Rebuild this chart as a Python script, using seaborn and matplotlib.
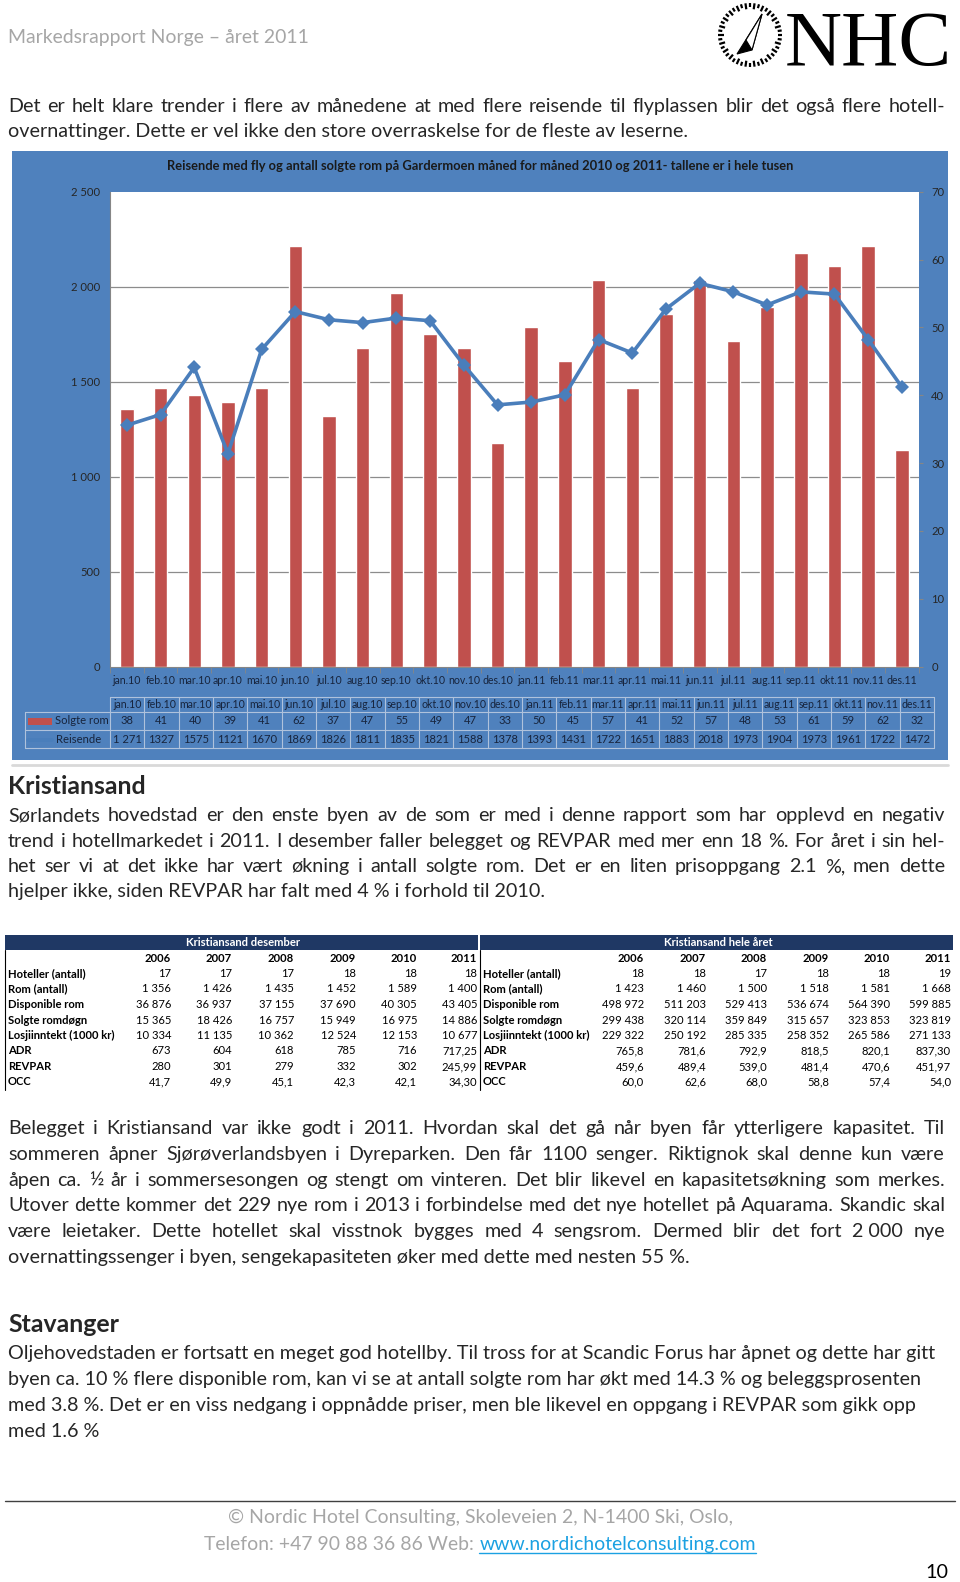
import numpy as np
import matplotlib
matplotlib.use('Agg')
import matplotlib.pyplot as plt
import seaborn as sns
from matplotlib.patches import Rectangle, Polygon

# chart data (Gardermoen, thousands)
months = ['jan.10', 'feb.10', 'mar.10', 'apr.10', 'mai.10', 'jun.10', 'jul.10', 'aug.10', 'sep.10', 'okt.10',
          'nov.10', 'des.10', 'jan.11', 'feb.11', 'mar.11', 'apr.11', 'mai.11', 'jun.11', 'jul.11', 'aug.11',
          'sep.11', 'okt.11', 'nov.11', 'des.11']
solgte_rom = [38, 41, 40, 39, 41, 62, 37, 47, 55, 49, 47, 33, 50, 45, 57, 41, 52, 57, 48, 53, 61, 59, 62, 32]
reisende = [1271, 1327, 1575, 1121, 1670, 1869, 1826, 1811, 1835, 1821, 1588, 1378, 1393, 1431, 1722, 1651,
            1883, 2018, 1973, 1904, 1973, 1961, 1722, 1472]
reisende_txt = ['1 271'] + [str(v) for v in reisende[1:]]
left_ticks = [0, 500, 1000, 1500, 2000, 2500]
right_ticks = [0, 10, 20, 30, 40, 50, 60, 70]

# Kristiansand tables
k_years = ['2006', '2007', '2008', '2009', '2010', '2011']
k_rows = ['Hoteller (antall)', 'Rom (antall)', 'Disponible rom', 'Solgte romdøgn', 'Losjiinntekt (1000 kr)',
          'ADR', 'REVPAR', 'OCC']
k_des = [['17', '17', '17', '18', '18', '18'],
         ['1 356', '1 426', '1 435', '1 452', '1 589', '1 400'],
         ['36 876', '36 937', '37 155', '37 690', '40 305', '43 405'],
         ['15 365', '18 426', '16 757', '15 949', '16 975', '14 886'],
         ['10 334', '11 135', '10 362', '12 524', '12 153', '10 677'],
         ['673', '604', '618', '785', '716', '717,25'],
         ['280', '301', '279', '332', '302', '245,99'],
         ['41,7', '49,9', '45,1', '42,3', '42,1', '34,30']]
k_aar = [['18', '18', '17', '18', '18', '19'],
         ['1 423', '1 460', '1 500', '1 518', '1 581', '1 668'],
         ['498 972', '511 203', '529 413', '536 674', '564 390', '599 885'],
         ['299 438', '320 114', '359 849', '315 657', '323 853', '323 819'],
         ['229 322', '250 192', '285 335', '258 352', '265 586', '271 133'],
         ['765,8', '781,6', '792,9', '818,5', '820,1', '837,30'],
         ['459,6', '489,4', '539,0', '481,4', '470,6', '451,97'],
         ['60,0', '62,6', '68,0', '58,8', '57,4', '54,0']]

intro = ["Det er helt klare trender i flere av månedene at med flere reisende til flyplassen blir det også flere hotell-",
         "overnattinger. Dette er vel ikke den store overraskelse for de fleste av leserne."]
kris1 = ["Sørlandets hovedstad er den enste byen av de som er med i denne rapport som har opplevd en negativ",
         "trend i hotellmarkedet i 2011. I desember faller belegget og REVPAR med mer enn 18 %. For året i sin hel-",
         "het ser vi at det ikke har vært økning i antall solgte rom.  Det er en liten prisoppgang 2.1 %, men dette",
         "hjelper ikke, siden REVPAR har falt med 4 % i forhold til 2010."]
kris2 = ["Belegget i Kristiansand var ikke godt i 2011. Hvordan skal det gå når byen får ytterligere kapasitet. Til",
         "sommeren åpner Sjørøverlandsbyen i Dyreparken. Den får 1100 senger. Riktignok skal denne kun være",
         "åpen ca. ½ år i sommersesongen og stengt om vinteren. Det blir likevel en kapasitetsøkning som merkes.",
         "Utover dette kommer det 229 nye rom i 2013 i forbindelse med det nye hotellet på Aquarama.  Skandic skal",
         "være leietaker. Dette hotellet skal visstnok bygges med 4 sengsrom. Dermed blir det fort 2\u00a0000 nye",
         "overnattingssenger i byen, sengekapasiteten øker med dette med nesten 55 %."]
stav = ["Oljehovedstaden er fortsatt en meget god hotellby. Til tross for at Scandic Forus har åpnet og dette har gitt",
        "byen ca. 10 % flere disponible rom, kan vi se at antall solgte rom har økt med 14.3 % og beleggsprosenten",
        "med 3.8 %. Det er en viss nedgang i oppnådde priser, men ble likevel en oppgang i REVPAR som gikk opp",
        "med 1.6 %"]

sns.set_style("white")
plt.rcParams['font.family'] = ['Lato', 'DejaVu Sans']

fig = plt.figure(figsize=(9.6, 15.82), dpi=100)
page = fig.add_axes([0, 0, 1, 1], zorder=0)
page.set_xlim(0, 960)
page.set_ylim(1582, 0)
page.axis('off')
renderer = fig.canvas.get_renderer()


def width_of(s, size, **kw):
    t = page.text(0, 0, s, fontsize=size, **kw)
    w = t.get_window_extent(renderer).width
    t.remove()
    return w


def fit(s, w, **kw):
    return 10 * w / width_of(s, 10, **kw)


def put_line(y, s, size, x0=8, x1=None, **kw):
    base = y + 0.32 * size * 100 / 72
    if x1 is None:
        page.text(x0, base, s, fontsize=size, va='baseline', **kw)
        return
    words = [w for w in s.split(' ') if w]
    ws = [width_of(w, size, **kw) for w in words]
    gap = max((x1 - x0 - sum(ws)) / (len(words) - 1), 0.2 * size)
    x = x0
    for w, ww in zip(words, ws):
        page.text(x, base, w, fontsize=size, va='baseline', **kw)
        x += ww + gap


body = fit(stav[0], 930)
head = fit('Kristiansand', 138, weight='bold')

# header + logo
put_line(37, 'Markedsrapport Norge – året 2011', fit('Markedsrapport Norge – året 2011', 302), color='#A6A6A6')
serif = ['Liberation Serif', 'DejaVu Serif']
page.text(785, 65, 'NHC', fontsize=fit('NHC', 168, family=serif), family=serif, va='baseline', color='black')
for a in np.linspace(0, 2 * np.pi, 44, endpoint=False):
    r0 = 26 if int(a * 7) % 2 else 28
    page.plot([750 + r0 * np.cos(a), 750 + 32 * np.cos(a)], [35 + r0 * np.sin(a), 35 + 32 * np.sin(a)],
              color='black', lw=1.6, solid_capstyle='butt')
page.add_patch(Polygon([(762, 14), (737, 54), (752, 50)], closed=True, facecolor='black', edgecolor='black', lw=0.8))
page.add_patch(Polygon([(762, 14), (752, 50), (746, 40)], closed=True, facecolor='white', edgecolor='black', lw=0.8))

for i, s in enumerate(intro):
    put_line(106 + 25 * i, s, body, x1=945 if i == 0 else None)

# chart frame
page.add_patch(Rectangle((12, 151), 936, 609, facecolor='#4F81BD', edgecolor='none'))
page.plot([12, 948], [765, 765], color='#D9D9D9', lw=2)
title = 'Reisende med fly og antall solgte rom på Gardermoen måned for måned 2010 og 2011- tallene er i hele tusen'
page.text(480, 166, title, fontsize=fit(title, 627, weight='bold'), weight='bold', ha='center', va='center',
          color='#1A1A1A')

ax = fig.add_axes([110 / 960, 1 - 666.7 / 1582, 808.7 / 960, 475 / 1582], zorder=2)
ax.set_facecolor('white')
sns.barplot(x=months, y=solgte_rom, ax=ax, color='#C0504D', width=0.4, saturation=1, zorder=2)
ax.set_xlim(-0.5, 23.5)
ax.set_ylim(0, right_ticks[-1])
ax2 = ax.twinx()
sns.lineplot(x=np.arange(len(reisende)), y=reisende, ax=ax2, color='#4A7EBB', lw=2.6, marker='D',
             markersize=7, markeredgewidth=0)
ax2.set_ylim(0, left_ticks[-1])
ax2.yaxis.tick_left()
ax.yaxis.tick_right()
ax2.set_yticks(left_ticks)
ax2.set_yticklabels([f'{v:,}'.replace(',', ' ') for v in left_ticks])
ax.set_yticks(right_ticks)
for v in left_ticks[1:-1]:
    ax.axhline(v * right_ticks[-1] / left_ticks[-1], color='#8C8C8C', lw=0.9, zorder=0)

small = fit('mar.10', 32.5)
ysz = fit('2 500', 29)
ax2.tick_params(axis='y', labelsize=ysz, labelcolor='#262626', length=0, pad=7)
ax.tick_params(axis='y', labelsize=ysz, labelcolor='#262626', length=3, color='#868686', pad=6)
ax.set_xticks(range(len(months)))
ax.set_xticklabels(months)
ax.set_xticks(np.arange(-0.5, len(months), 1), minor=True)
ax.tick_params(axis='x', which='major', length=0, labelsize=small, labelcolor='#17243D', pad=6)
ax.tick_params(axis='x', which='minor', length=4, color='#868686', bottom=True)
for a in (ax, ax2):
    a.set_xlabel('')
    a.set_ylabel('')
    for sp in a.spines.values():
        sp.set_visible(False)
ax.spines['left'].set_visible(True)
ax.spines['bottom'].set_visible(True)
ax.spines['left'].set_color('#868686')
ax.spines['bottom'].set_color('#868686')
if ax2.get_legend():
    ax2.get_legend().remove()

# data table under the chart
col_w = (934 - 110) / len(months)
grid = dict(color='#AFC2DC', lw=0.8)
page.plot([110, 934], [696.7, 696.7], **grid)
for yy in (711.7, 730, 748.3):
    page.plot([25, 934], [yy, yy], **grid)
page.plot([25, 25], [711.7, 748.3], **grid)
for i in range(len(months) + 1):
    page.plot([110 + i * col_w] * 2, [696.7, 748.3], **grid)
cell = fit('1 271', 29)
for i, m in enumerate(months):
    cx = 110 + (i + 0.5) * col_w
    page.text(cx, 704.5, m, fontsize=small, ha='center', va='center', color='#17243D')
    page.text(cx, 721, str(solgte_rom[i]), fontsize=cell, ha='center', va='center', color='#17243D')
    page.text(cx, 739.5, reisende_txt[i], fontsize=cell, ha='center', va='center', color='#17243D')
page.add_patch(Rectangle((28, 717.5), 24, 7, facecolor='#C0504D', edgecolor='none'))
page.plot([28, 52], [739.5, 739.5], color='#4A7EBB', lw=2.6)
page.text(55, 721, 'Solgte rom', fontsize=cell, va='center', color='#17243D')
page.text(56, 739.5, 'Reisende', fontsize=cell, va='center', color='#17243D')

# Kristiansand
put_line(786, 'Kristiansand', head, weight='bold')
for i, s in enumerate(kris1):
    put_line(815 + 25.3 * i, s, body, x1=945 if i < len(kris1) - 1 else None)

tab = fit('Losjiinntekt (1000 kr)', 107, weight='bold')
row_y = [973.3, 989, 1004.5, 1020, 1035.7, 1051, 1066.7, 1081.7]
for x0, name, cols, vals in [(5, 'Kristiansand desember', [171, 232, 294, 356, 417, 477], k_des),
                             (480, 'Kristiansand hele året', [644, 706, 767, 829, 890, 951], k_aar)]:
    page.add_patch(Rectangle((x0, 935), 473, 15, facecolor='#1F3864', edgecolor='none'))
    page.text(x0 + 238, 942.5, name, fontsize=tab, weight='bold', color='white', ha='center', va='center')
    for cx, yr in zip(cols, k_years):
        page.text(cx, 958, yr, fontsize=tab, weight='bold', ha='right', va='center', color='black')
    for ry, lab, vv in zip(row_y, k_rows, vals):
        page.text(x0 + 3, ry, lab, fontsize=tab, weight='bold', va='center', color='black')
        for cx, v in zip(cols, vv):
            page.text(cx, ry, v, fontsize=tab, ha='right', va='center', color='black')
page.plot([5, 5], [950, 1090], color='black', lw=0.8)
page.plot([479.5, 479.5], [950, 1090], color='black', lw=0.8)

for i, s in enumerate(kris2):
    put_line(1128 + 25.7 * i, s, body, x1=945 if i < len(kris2) - 1 else None)

put_line(1324, 'Stavanger', head, weight='bold')
for i, s in enumerate(stav):
    put_line(1353 + 26 * i, s, body)

# footer
page.plot([5, 955], [1501, 1501], color='#404040', lw=1)
foot1 = '© Nordic Hotel Consulting, Skoleveien 2, N-1400 Ski, Oslo,'
fsz = fit(foot1, 506)
page.text(480, 1517 + 0.32 * fsz * 100 / 72, foot1, fontsize=fsz, color='#A6A6A6', ha='center', va='baseline')
part_a = 'Telefon: +47 90 88 36 86 Web: '
link = 'www.nordichotelconsulting.com'
wa, wl = width_of(part_a, fsz), width_of(link, fsz)
xs = 480 - (wa + wl) / 2
base2 = 1544 + 0.32 * fsz * 100 / 72
page.text(xs, base2, part_a, fontsize=fsz, color='#A6A6A6', va='baseline')
page.text(xs + wa, base2, link, fontsize=fsz, color='#1BA1E2', va='baseline')
page.plot([xs + wa, xs + wa + wl], [base2 + 3, base2 + 3], color='#1BA1E2', lw=1)
page.text(948, 1572, '10', fontsize=body, ha='right', va='center', color='black')

fig.savefig('out.png', dpi=100)
